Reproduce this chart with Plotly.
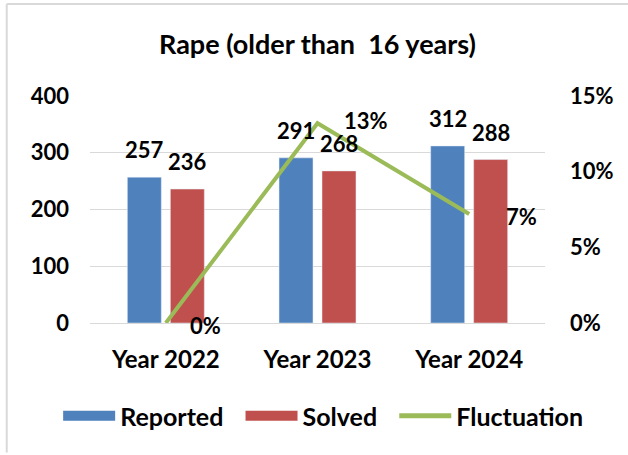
import plotly.graph_objects as go

# Chart data
years = ["Year 2022", "Year 2023", "Year 2024"]
reported = [257, 291, 312]
solved = [236, 268, 288]
fluctuation = [0.0, 0.132, 0.072]
fluct_labels = ["0%", "13%", "7%"]

BLUE = "#4F81BD"
RED = "#C0504D"
GREEN = "#9BBB59"
FONT = "Lato"
LABEL_FONT = dict(family=FONT, size=22, color="black", weight="bold")

fig = go.Figure()

fig.add_trace(go.Bar(name="Reported", x=years, y=reported, marker_color=BLUE,
                     showlegend=False))
fig.add_trace(go.Bar(name="Solved", x=years, y=solved, marker_color=RED,
                     showlegend=False))
fig.add_trace(go.Scatter(
    name="Fluctuation", x=years, y=fluctuation, yaxis="y2",
    mode="lines", line=dict(color=GREEN, width=4), cliponaxis=False,
    showlegend=False,
))

# Legend entries drawn as wide swatches
legend_items = [("Reported\u00a0\u00a0", BLUE, 13),
                ("Solved\u00a0\u00a0", RED, 13),
                ("Fluctuation", GREEN, 5)]
for name, col, w in legend_items:
    fig.add_trace(go.Scatter(name=name, x=[None], y=[None], mode="lines",
                             line=dict(color=col, width=w)))

# Value labels above each bar (bars sit half a slot left/right of the category)
for series, dx in [(reported, -21.5), (solved, 21.5)]:
    for yr, v in zip(years, series):
        fig.add_annotation(x=yr, y=v, xref="x", yref="y", text=str(v),
                           showarrow=False, xanchor="center", yanchor="bottom",
                           xshift=dx, yshift=12, font=LABEL_FONT)

# Percentage labels to the right of each line point
shifts = [22, 24, 35]
yshifts = [-2, 3, -2]
for yr, val, lab, sh, ys in zip(years, fluctuation, fluct_labels, shifts, yshifts):
    fig.add_annotation(
        x=yr, y=val, xref="x", yref="y2", text=lab, showarrow=False,
        xanchor="left", yanchor="middle", xshift=sh, yshift=ys,
        font=LABEL_FONT,
    )

# Outer frame lines (left and top)
fig.add_shape(type="line", xref="paper", yref="paper",
              x0=-0.183, x1=-0.183, y0=1.405, y1=-0.57,
              line=dict(color="#D9D9D9", width=2))
fig.add_shape(type="line", xref="paper", yref="paper",
              x0=-0.183, x1=1.2, y0=1.405, y1=1.405,
              line=dict(color="#D9D9D9", width=2))

fig.update_layout(
    width=628, height=455,
    margin=dict(l=90, r=83, t=96, b=132),
    paper_bgcolor="white", plot_bgcolor="white",
    barmode="group", bargap=0.433, bargroupgap=0.21,
    title=dict(text="Rape (older than  16 years)", x=0.5, xref="paper",
               xanchor="center", y=1 - 45 / 455, yanchor="middle",
               font=dict(family=FONT, size=27, color="black", weight="bold")),
    font=dict(family=FONT, color="black"),
    xaxis=dict(showgrid=False, showline=False, ticks="", ticklabelstandoff=20,
               tickfont=dict(family=FONT, size=24, color="black", weight="bold")),
    yaxis=dict(range=[0, 400], dtick=100, showgrid=True, gridcolor="#D9D9D9",
               gridwidth=1, zeroline=True, zerolinecolor="#D9D9D9",
               zerolinewidth=1, showline=False, ticks="",
               ticklabelstandoff=20,
               tickfont=dict(family=FONT, size=22, color="black", weight="bold")),
    yaxis2=dict(range=[0, 0.15], dtick=0.05, tickformat=".0%", overlaying="y",
                side="right", showgrid=False, zeroline=False, showline=False,
                ticks="", ticklabelstandoff=24,
                tickfont=dict(family=FONT, size=22, color="black", weight="bold")),
    legend=dict(orientation="h", x=-0.07, xanchor="left", y=-0.41,
                yanchor="middle", traceorder="normal",
                font=dict(family=FONT, size=25, color="black", weight="bold"),
                itemwidth=52),
    showlegend=True,
)

fig.write_html("out.html")
